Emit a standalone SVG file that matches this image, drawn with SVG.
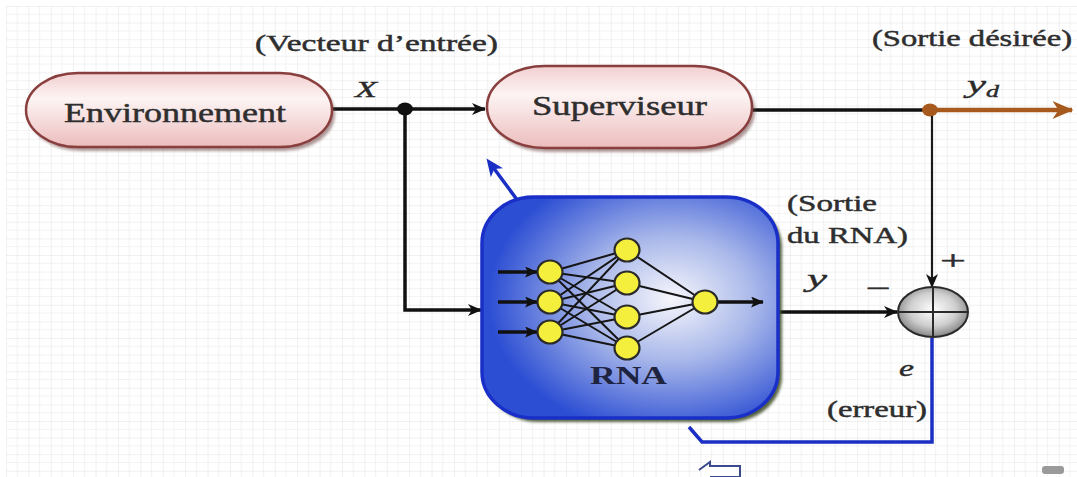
<svg xmlns="http://www.w3.org/2000/svg" width="1077" height="477" viewBox="0 0 1077 477">
  <defs>
    <!-- faint squared paper -->
    <pattern id="grid" x="6" y="6" width="22.4" height="16.6" patternUnits="userSpaceOnUse">
      <rect width="22.4" height="16.6" fill="#ffffff"/>
      <path d="M11.2 0V16.6M0 8.3H22.4" stroke="#f3f3f3" stroke-width="1" fill="none"/>
      <path d="M0 0V16.6M0 0H22.4" stroke="#e3e3e3" stroke-width="1" fill="none"/>
    </pattern>
    <linearGradient id="pill" x1="0" y1="0" x2="0" y2="1">
      <stop offset="0" stop-color="#f2cfcf"/>
      <stop offset="0.35" stop-color="#fdf4f4"/>
      <stop offset="1" stop-color="#ecbcbc"/>
    </linearGradient>
    <radialGradient id="rna" cx="0.64" cy="0.46" r="0.62">
      <stop offset="0" stop-color="#f6f6fb"/>
      <stop offset="0.45" stop-color="#a9b8ea"/>
      <stop offset="1" stop-color="#2c4ed3"/>
    </radialGradient>
    <radialGradient id="sum" cx="0.5" cy="0.45" r="0.55">
      <stop offset="0" stop-color="#ffffff"/>
      <stop offset="0.6" stop-color="#cfcfcf"/>
      <stop offset="1" stop-color="#858585"/>
    </radialGradient>
    <filter id="soft" x="-10%" y="-10%" width="120%" height="130%">
      <feGaussianBlur stdDeviation="1.5"/>
    </filter>
    <marker id="ahBlack" viewBox="0 0 14 12" refX="13" refY="6" markerWidth="14" markerHeight="12" markerUnits="userSpaceOnUse" orient="auto">
      <path d="M0 0L14 6L0 12L4 6z" fill="#111"/>
    </marker>
    <marker id="ahSmall" viewBox="0 0 14 12" refX="13" refY="6" markerWidth="13" markerHeight="11" markerUnits="userSpaceOnUse" orient="auto">
      <path d="M0 0L14 6L0 12L3 6z" fill="#111"/>
    </marker>
    <marker id="ahBrown" viewBox="0 0 14 12" refX="13" refY="6" markerWidth="22" markerHeight="18" markerUnits="userSpaceOnUse" orient="auto">
      <path d="M0 0L14 6L0 12L4 6z" fill="#a85a1e"/>
    </marker>
  </defs>
  <style>
    .lbl { font-family: "Liberation Serif", "Times New Roman", serif; fill: #2e2e2e; stroke: #2e2e2e; stroke-width: 0.45; }
    .var { font-family: "Liberation Serif", "Times New Roman", serif; font-style: italic; fill: #2a2a2a; stroke: #2a2a2a; stroke-width: 0.4; }
    .pillShape { fill: url(#pill); stroke: #8a3f3f; stroke-width: 2.5; }
    .shadow { fill: #6a4040; opacity: 0.55; filter: url(#soft); }
    .wire { fill: none; stroke: #111; stroke-width: 3.5; }
    .thin { fill: none; stroke: #1a1a1a; stroke-width: 2.2; }
    .blue { fill: none; stroke: #1c2fc4; stroke-width: 3.5; }
    .syn { stroke: #151515; stroke-width: 2; }
    .neuron { fill: #f4ee3c; stroke: #2a2a2a; stroke-width: 2.2; }
  </style>

  <rect x="0" y="0" width="1077" height="477" fill="#ffffff"/>
  <rect x="6" y="6" width="1071" height="471" fill="url(#grid)"/>

  <!-- connectors -->
  <g id="connectors">
    <!-- X: Environnement to Superviseur -->
    <path class="wire" d="M332 109H485" marker-end="url(#ahBlack)"/>
    <!-- X branch down into the network -->
    <path class="wire" d="M405 109V310H481" marker-end="url(#ahBlack)"/>
    <ellipse cx="405" cy="109" rx="8" ry="6.5" fill="#111"/>
    <!-- Superviseur output -->
    <path class="wire" d="M752 110H930"/>
    <path d="M930 110H1072" fill="none" stroke="#a85a1e" stroke-width="4.5" marker-end="url(#ahBrown)"/>
    <ellipse cx="930" cy="110" rx="8" ry="6.5" fill="#a85a1e"/>
    <!-- desired output to the summing junction -->
    <path class="thin" d="M932 116V287" marker-end="url(#ahBlack)"/>
    <!-- network output to the summing junction -->
    <path class="wire" d="M780 312H897" marker-end="url(#ahBlack)"/>
    <!-- error feedback -->
    <path class="blue" d="M932 338V442H702L689 427"/>
    <!-- adaptation arrow -->
    <path class="blue" d="M518 201L494 168.5"/>
    <path d="M486.5 158.5L503 168.2L494.3 169L490.8 177.3z" fill="#1c2fc4"/>
  </g>

  <!-- Environnement -->
  <g id="environnement">
    <rect class="shadow" x="29" y="77" width="306" height="74" rx="52" ry="37"/>
    <rect class="pillShape" x="26" y="73" width="306" height="74" rx="52" ry="37"/>
    <text class="lbl" x="64" y="122" font-size="27" textLength="222" lengthAdjust="spacingAndGlyphs">Environnement</text>
  </g>

  <!-- Superviseur -->
  <g id="superviseur">
    <rect class="shadow" x="490" y="70" width="265" height="82" rx="58" ry="41"/>
    <rect class="pillShape" x="487" y="66" width="265" height="82" rx="58" ry="41"/>
    <text class="lbl" x="532" y="115" font-size="27" textLength="175" lengthAdjust="spacingAndGlyphs">Superviseur</text>
  </g>

  <!-- RNA block -->
  <g id="rna">
    <rect x="486" y="201" width="296" height="221" rx="52" ry="46" fill="#3b4a22" opacity="0.85" filter="url(#soft)"/>
    <rect x="482" y="197" width="296" height="221" rx="52" ry="46" fill="url(#rna)" stroke="#1a2fc8" stroke-width="3.5"/>
    <!-- synapses: input layer to hidden layer, hidden layer to output -->
    <g class="syn">
      <path d="M550 272L627 250M550 272L627 283M550 272L627 317M550 272L627 348"/>
      <path d="M550 302L627 250M550 302L627 283M550 302L627 317M550 302L627 348"/>
      <path d="M550 332L627 250M550 332L627 283M550 332L627 317M550 332L627 348"/>
      <path d="M627 250L705 302M627 283L705 302M627 317L705 302M627 348L705 302"/>
    </g>
    <path class="wire" d="M498 272H537" stroke-width="2.5" marker-end="url(#ahSmall)"/>
    <path class="wire" d="M498 302H537" stroke-width="2.5" marker-end="url(#ahSmall)"/>
    <path class="wire" d="M498 332H537" stroke-width="2.5" marker-end="url(#ahSmall)"/>
    <path class="wire" d="M717 302H763" stroke-width="2.5" marker-end="url(#ahSmall)"/>
    <ellipse class="neuron" cx="550" cy="272" rx="12.5" ry="11.5"/>
    <ellipse class="neuron" cx="550" cy="302" rx="12.5" ry="11.5"/>
    <ellipse class="neuron" cx="550" cy="332" rx="12.5" ry="11.5"/>
    <ellipse class="neuron" cx="627" cy="250" rx="12.5" ry="11.5"/>
    <ellipse class="neuron" cx="627" cy="283" rx="12.5" ry="11.5"/>
    <ellipse class="neuron" cx="627" cy="317" rx="12.5" ry="11.5"/>
    <ellipse class="neuron" cx="627" cy="348" rx="12.5" ry="11.5"/>
    <ellipse class="neuron" cx="705" cy="302" rx="12.5" ry="11.5"/>
    <text x="590" y="384" font-family="Liberation Serif, serif" font-weight="bold" font-size="26" fill="#1e2440" textLength="77" lengthAdjust="spacingAndGlyphs">RNA</text>
  </g>

  <!-- summing junction -->
  <g id="somme">
    <ellipse cx="933" cy="312" rx="35" ry="25" fill="url(#sum)" stroke="#2a2a2a" stroke-width="2"/>
    <path d="M898 312H968M933 287V337" stroke="#2a2a2a" stroke-width="2"/>
  </g>

  <!-- labels -->
  <g id="labels">
    <text class="lbl" x="255" y="51" font-size="23" textLength="243" lengthAdjust="spacingAndGlyphs">(Vecteur d’entrée)</text>
    <text class="var" x="355" y="97" font-size="24" textLength="22" lengthAdjust="spacingAndGlyphs">X</text>
    <text class="lbl" x="872" y="46" font-size="23" textLength="200" lengthAdjust="spacingAndGlyphs">(Sortie désirée)</text>
    <text class="var" x="967" y="93" font-size="26" textLength="19" lengthAdjust="spacingAndGlyphs">y</text>
    <text class="var" x="986" y="97" font-size="17" textLength="13" lengthAdjust="spacingAndGlyphs">d</text>
    <text class="lbl" x="787" y="211" font-size="24" textLength="90" lengthAdjust="spacingAndGlyphs">(Sortie</text>
    <text class="lbl" x="787" y="243" font-size="24" textLength="121" lengthAdjust="spacingAndGlyphs">du RNA)</text>
    <text class="var" x="807" y="287" font-size="26" textLength="20" lengthAdjust="spacingAndGlyphs">y</text>
    <text class="lbl" x="866" y="297" font-size="26" textLength="25" lengthAdjust="spacingAndGlyphs">−</text>
    <text class="lbl" x="940" y="270" font-size="28" textLength="26" lengthAdjust="spacingAndGlyphs">+</text>
    <text class="var" x="899" y="376" font-size="24" textLength="15" lengthAdjust="spacingAndGlyphs">e</text>
    <text class="lbl" x="827" y="417" font-size="23" textLength="100" lengthAdjust="spacingAndGlyphs">(erreur)</text>
  </g>

  <!-- small marks at the lower edge -->
  <path d="M699 470L710 462V466H740V477H710V477" fill="#ffffff" stroke="#3a4a8a" stroke-width="2"/>
  <rect x="1042" y="466" width="22" height="8" rx="3" fill="#9a9a9a"/>
</svg>
